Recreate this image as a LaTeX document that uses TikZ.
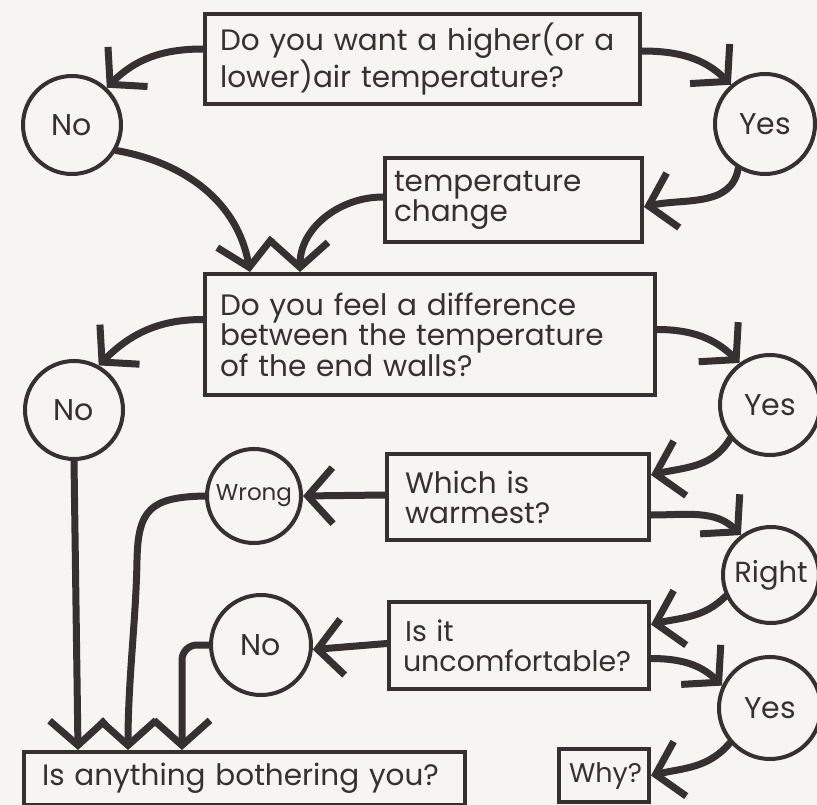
\documentclass[tikz,border=0pt]{standalone}
\usepackage{fontspec}
\setmainfont{Poppins}
\usetikzlibrary{arrows.meta,calc}
\definecolor{ink}{HTML}{363030}
\definecolor{paper}{HTML}{F6F5F2}
\begin{document}
\begin{tikzpicture}[x=1pt,y=-1pt,
  box/.style={draw=ink, line width=4pt, align=left, inner ysep=0pt, anchor=north west,
    text=ink, font=\fontsize{29.5}{30}\selectfont},
  ans/.style={draw=ink, circle, line width=4pt, inner sep=0pt, minimum size=98pt,
    text=ink, font=\fontsize{30}{30}\selectfont},
  flow/.style={draw=ink, line width=7pt, line cap=round,
    -{Straight Barb[length=25pt,width=56pt]}},
]
\fill[paper] (0,0) rectangle (817,805);
\useasboundingbox (0,0) rectangle (817,805);

% question boxes
\node[box, inner xsep=15pt, text width=405pt, minimum height=90pt] (q1) at (203,12)
  {\mbox{Do you want a higher(or a}\\\mbox{lower)air temperature?}};
\node[box, inner xsep=9pt, text width=239pt, minimum height=84pt] (q2) at (383,156)
  {\mbox{temperature}\\\mbox{change}};
\node[box, inner xsep=15pt, text width=420pt, minimum height=121pt] (q3) at (203,272)
  {\mbox{Do you feel a difference}\\\mbox{between the temperature}\\\mbox{of the end walls?}};
\node[box, inner xsep=18pt, text width=226pt, minimum height=86pt] (q4) at (385,452)
  {\mbox{Which is}\\\mbox{warmest?}};
\node[box, inner xsep=14pt, text width=232pt, minimum height=87pt,
  font=\fontsize{28.5}{30}\selectfont] (q5) at (387,600)
  {\mbox{\hspace*{2pt}Is it}\\\mbox{uncomfortable?}};
\node[box, inner xsep=18pt, text width=405pt, minimum height=53pt] (final) at (22,750)
  {\mbox{Is anything bothering you?}};
\node[box, inner xsep=10pt, text width=70pt, minimum height=53pt,
  font=\fontsize{27}{30}\selectfont] (why) at (557,747)
  {\mbox{Why?}};

% answer circles
\node[ans] (no1) at (72,125) {No};
\node[ans, minimum size=100pt] (yes1) at (765,124) {Yes};
\node[ans] (no2) at (74,410) {No};
\node[ans, minimum size=100pt] (yes2) at (770,405) {Yes};
\node[ans, minimum size=94pt, font=\fontsize{23}{26}\selectfont] (wrong) at (254,496) {Wrong};
\node[ans, minimum size=96pt, font=\fontsize{29}{30}\selectfont] (right) at (771,575) {Right};
\node[ans, minimum size=100pt] (no3) at (261,645) {No};
\node[ans, minimum size=102pt] (yes3) at (770,708) {Yes};

% connectors
\draw[flow] ([yshift=10pt]q1.west) to[out=180,in=45] (no1.47);
\draw[flow] ([yshift=8pt]q1.east) to[out=0,in=135] (yes1.131);
\draw[flow] (yes1.239) to[out=-100,in=13] ([yshift=-7pt]q2.east);
\draw[flow] (no1.-30) to[out=-10,in=100] (250,0 |- q3.north);
\draw[flow] ([yshift=3pt]q2.west) to[out=180,in=90] (300,0 |- q3.north);
\draw[flow] ([yshift=15pt]q3.west) to[out=180,in=45] (no2.61);
\draw[flow] ([yshift=5pt]q3.east) to[out=0,in=135] (yes2.126);
\draw[flow] (yes2.220) to[out=-120,in=13] ([yshift=22pt]q4.east);
\draw[flow] ([yshift=2pt]q4.west) -- (wrong.east);
\draw[flow] ([yshift=-18pt]q4.east) to[out=0,in=135] (right.127);
\draw[flow] (right.205) to[out=-135,in=13] ([yshift=21pt]q5.east);
\draw[flow] ([yshift=2pt]q5.west) -- (no3.-5);
\draw[flow] ([yshift=-13pt]q5.east) to[out=0,in=135] (yes3.155);
\draw[flow] (yes3.221) to[out=-130,in=13] (why.east);
\draw[flow] (wrong.west) .. controls (150,497) and (138,510) .. (137,560)
  .. controls (136,620) and (128,680) .. (128,0 |- final.north);
\draw[flow] (no2.south) -- (78,0 |- final.north);
\draw[flow, rounded corners=15pt] (no3.west) -| (182,0 |- final.north);
\end{tikzpicture}
\end{document}
